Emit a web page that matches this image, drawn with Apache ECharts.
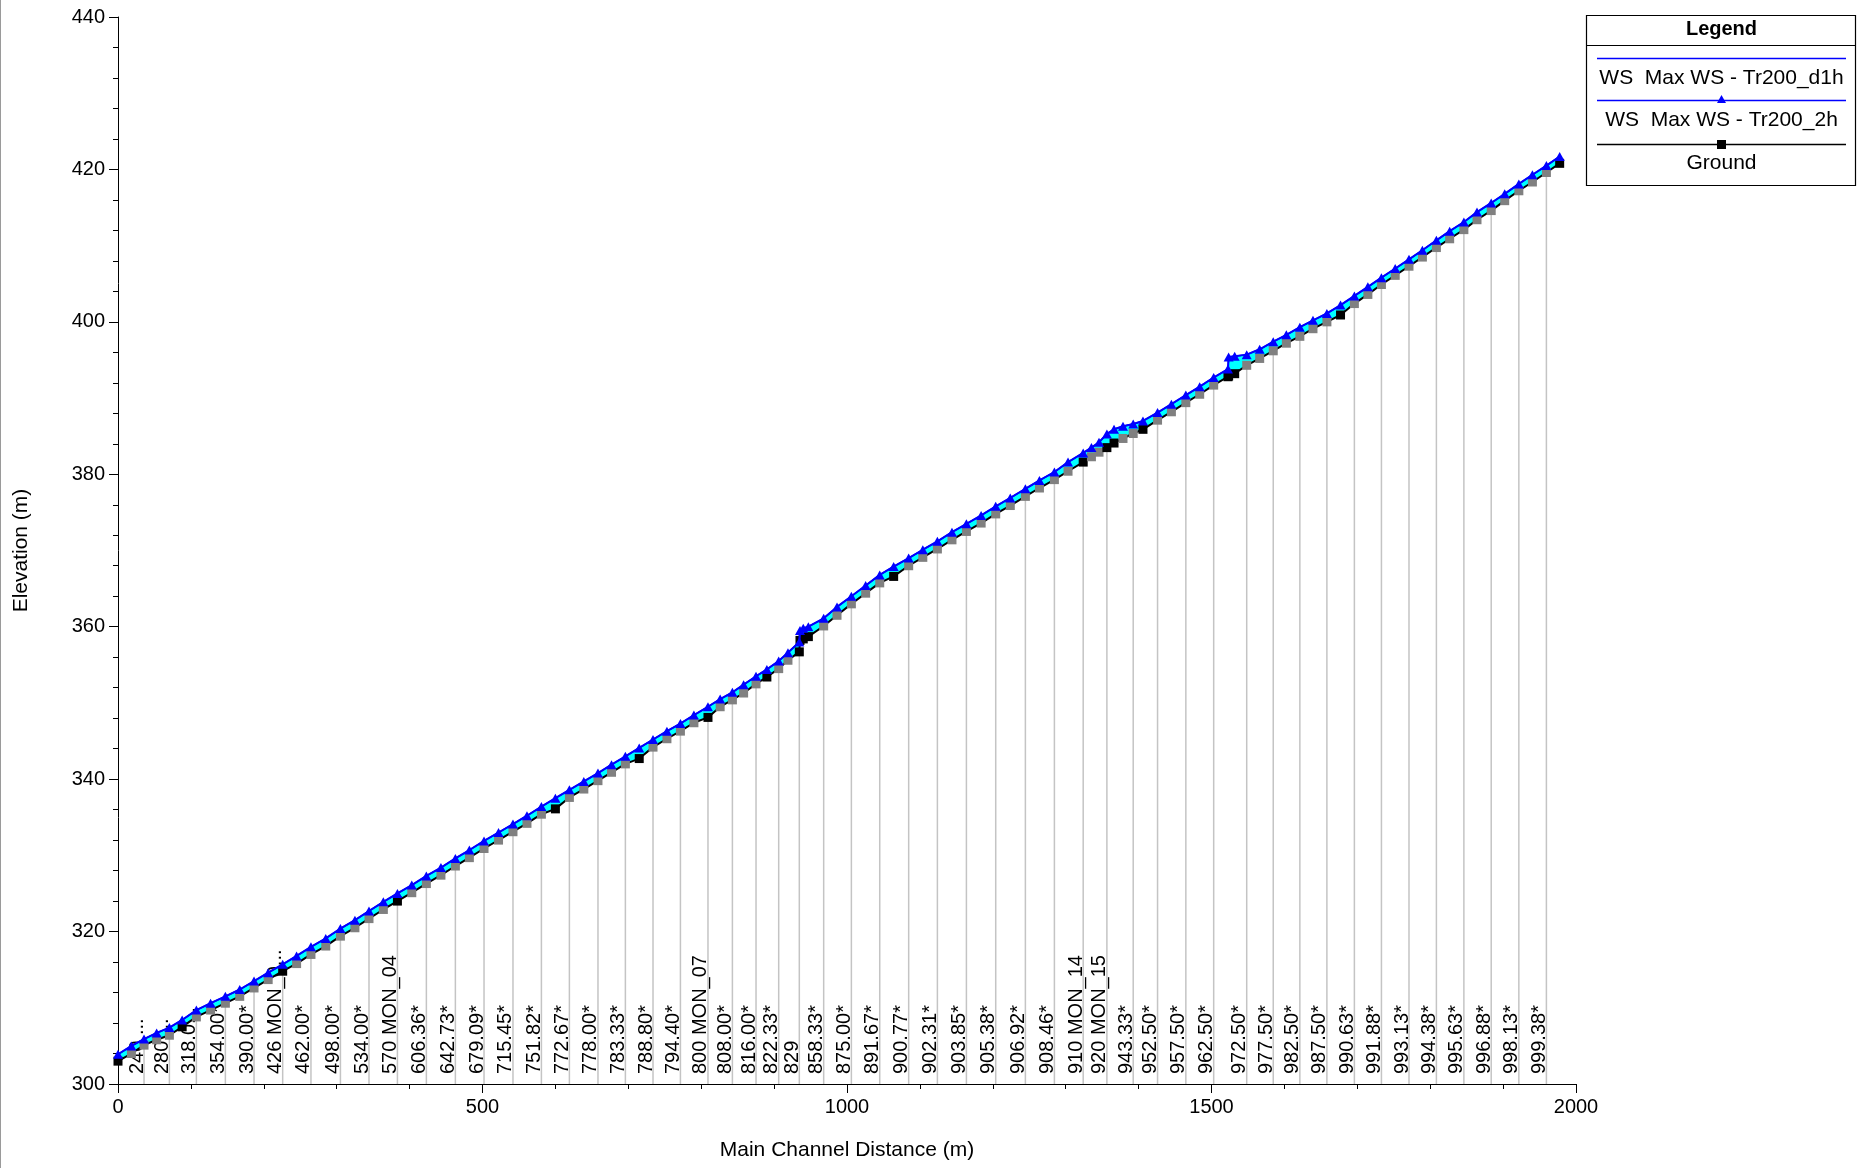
<!DOCTYPE html>
<html>
<head>
<meta charset="utf-8">
<title>Profile - Max WS</title>
<script src="https://cdn.jsdelivr.net/npm/echarts@6/dist/echarts.min.js"></script>
<style>
  html, body { margin: 0; padding: 0; background: #fff; }
  #chart { width: 1865px; height: 1168px; }
</style>
</head>
<body>
<div id="chart"></div>
<script>
// main channel distance (m) of every cross section
var xsDist = [0, 18.4, 35.7, 53, 70.5, 88, 107.5, 127, 147.3, 167,
  186.6, 206, 225.9, 245, 264.7, 285, 305.1, 325, 344.3, 364,
  383.3, 403, 423, 443, 462.8, 482, 502.1, 522, 541.8, 561,
  580.8, 600, 619.2, 639, 658.4, 677, 696, 715, 733.9, 753,
  771.5, 790, 809.3, 826, 842.8, 858.2, 875.2, 890.1, 906.3, 919,
  934.6, 935.5, 940, 947, 968, 986.3, 1006, 1025.6, 1044.9, 1064,
  1084.6, 1104, 1124, 1144, 1163.8, 1184, 1204, 1224, 1244.7, 1264,
  1284.5, 1303.2, 1324, 1335.3, 1345.7, 1356.5, 1366.3, 1378.6, 1392.6, 1406,
  1426, 1445, 1464.8, 1483.8, 1503, 1522.6, 1523.5, 1531.8, 1548.3, 1566.1,
  1584.7, 1602.7, 1621.2, 1639.2, 1658.3, 1677, 1696, 1714.5, 1733.1, 1752,
  1770.9, 1789.3, 1808.5, 1826.7, 1846.2, 1864.2, 1883.7, 1902.2, 1921.6, 1940.2,
  1959.4, 1977.6];

// ground (channel invert) elevation
var groundElev = [303.0, 304.0, 305.1, 305.8, 306.4, 307.5, 308.8, 309.7, 310.6, 311.5,
  312.6, 313.7, 314.8, 315.8, 317.0, 318.1, 319.4, 320.5, 321.7, 322.9,
  324.0, 325.1, 326.3, 327.4, 328.6, 329.7, 330.9, 332.0, 333.1, 334.2,
  335.4, 336.1, 337.6, 338.7, 339.8, 340.9, 342.0, 342.7, 344.2, 345.3,
  346.3, 347.4, 348.1, 349.5, 350.4, 351.3, 352.5, 353.4, 354.5, 355.6,
  356.7, 358.2, 358.4, 358.7, 360.1, 361.5, 363.0, 364.4, 365.75, 366.6,
  368.0, 369.1, 370.2, 371.4, 372.5, 373.6, 374.8, 375.9, 377.1, 378.2,
  379.3, 380.4, 381.6, 382.3, 382.9, 383.5, 384.1, 384.7, 385.35, 385.9,
  387.1, 388.2, 389.4, 390.5, 391.7, 392.8, 392.9, 393.2, 394.3, 395.2,
  396.2, 397.2, 398.1, 399.1, 400.0, 400.9, 402.4, 403.6, 404.9, 406.1,
  407.3, 408.5, 409.75, 410.9, 412.1, 413.4, 414.6, 415.9, 417.2, 418.35,
  419.6, 420.8];

// WS  Max WS - Tr200_d1h
var wsD1h = [303.9, 305.0, 305.9, 306.7, 307.4, 308.4, 309.7, 310.6, 311.5, 312.4,
  313.5, 314.6, 315.7, 316.8, 318.0, 319.1, 320.4, 321.5, 322.7, 323.9,
  325.0, 326.1, 327.3, 328.4, 329.6, 330.7, 331.9, 333.0, 334.1, 335.2,
  336.4, 337.5, 338.6, 339.7, 340.8, 341.9, 343.0, 344.1, 345.2, 346.3,
  347.3, 348.4, 349.5, 350.5, 351.4, 352.4, 353.5, 354.4, 355.5, 356.6,
  358.0, 359.5, 359.8, 360.0, 361.1, 362.6, 364.0, 365.4, 366.8, 367.9,
  369.0, 370.1, 371.2, 372.4, 373.5, 374.6, 375.8, 376.9, 378.1, 379.2,
  380.3, 381.6, 382.8, 383.5, 384.2, 385.3, 385.9, 386.3, 386.6, 387.0,
  388.1, 389.2, 390.4, 391.5, 392.7, 393.8, 395.4, 395.5, 395.7, 396.4,
  397.4, 398.3, 399.3, 400.2, 401.1, 402.2, 403.4, 404.6, 405.8, 407.0,
  408.2, 409.4, 410.7, 411.9, 413.1, 414.4, 415.6, 416.8, 418.1, 419.3,
  420.5, 421.7];

// WS  Max WS - Tr200_2h
var ws2h = [303.9, 305.0, 305.9, 306.7, 307.4, 308.4, 309.7, 310.6, 311.5, 312.4,
  313.5, 314.6, 315.7, 316.8, 318.0, 319.1, 320.4, 321.5, 322.7, 323.9,
  325.0, 326.1, 327.3, 328.4, 329.6, 330.7, 331.9, 333.0, 334.1, 335.2,
  336.4, 337.5, 338.6, 339.7, 340.8, 341.9, 343.0, 344.1, 345.2, 346.3,
  347.3, 348.4, 349.5, 350.5, 351.4, 352.4, 353.5, 354.4, 355.5, 356.6,
  358.0, 359.5, 359.8, 360.0, 361.1, 362.6, 364.0, 365.4, 366.8, 367.9,
  369.0, 370.1, 371.2, 372.4, 373.5, 374.6, 375.8, 376.9, 378.1, 379.2,
  380.3, 381.6, 382.8, 383.5, 384.2, 385.3, 385.9, 386.3, 386.6, 387.0,
  388.1, 389.2, 390.4, 391.5, 392.7, 393.8, 395.4, 395.5, 395.7, 396.4,
  397.4, 398.3, 399.3, 400.2, 401.1, 402.2, 403.4, 404.6, 405.8, 407.0,
  408.2, 409.4, 410.7, 411.9, 413.1, 414.4, 415.6, 416.8, 418.1, 419.3,
  420.5, 421.7];

// surveyed (not interpolated) sections -> black squares
var realXsDist = [0, 88, 225.9, 383.3, 600, 715, 809.3, 890.1, 934.6, 935.5, 940, 947,
  1064, 1324, 1356.5, 1366.3, 1406, 1522.6, 1523.5, 1531.8, 1677, 1977.6];

// labelled sections (river station) with their vertical line
var labelDist = [35.7, 70.5, 107.5, 147.3, 186.6, 225.9, 264.7, 305.1, 344.3, 383.3,
  423, 462.8, 502.1, 541.8, 580.8, 619.2, 658.4, 696, 733.9, 771.5,
  809.3, 842.8, 875.2, 906.3, 934.6, 968, 1006, 1044.9, 1084.6, 1124,
  1163.8, 1204, 1244.7, 1284.5, 1324, 1356.5, 1392.6, 1426, 1464.8, 1503,
  1548.3, 1584.7, 1621.2, 1658.3, 1696, 1733.1, 1770.9, 1808.5, 1846.2, 1883.7,
  1921.6, 1959.4];
var labelText = ['240 ...', '280 ...', '318.0...', '354.00*', '390.00*', '426 MON_0...', '462.00*', '498.00*', '534.00*', '570 MON_04',
  '606.36*', '642.73*', '679.09*', '715.45*', '751.82*', '772.67*', '778.00*', '783.33*', '788.80*', '794.40*',
  '800 MON_07', '808.00*', '816.00*', '822.33*', '829', '858.33*', '875.00*', '891.67*', '900.77*', '902.31*',
  '903.85*', '905.38*', '906.92*', '908.46*', '910 MON_14', '920 MON_15', '943.33*', '952.50*', '957.50*', '962.50*',
  '972.50*', '977.50*', '982.50*', '987.50*', '990.63*', '991.88*', '993.13*', '994.38*', '995.63*', '996.88*',
  '998.13*', '999.38*'];

var xTicks = { min: 0, max: 2000, step: 500 };
var yTicks = { min: 300, max: 440, step: 20 };

var FONT = '"Liberation Sans", Arial, sans-serif';

var chart = echarts.init(document.getElementById('chart'));

var groundData = [], d1hData = [], w2hData = [];
for (var i = 0; i < xsDist.length; i++) {
  var real = realXsDist.indexOf(xsDist[i]) >= 0;
  groundData.push({
    value: [xsDist[i], groundElev[i]],
    itemStyle: { color: real ? '#000000' : '#808080' }
  });
  d1hData.push([xsDist[i], wsD1h[i]]);
  w2hData.push([xsDist[i], ws2h[i]]);
}

var lineData = [];
for (var j = 0; j < labelDist.length; j++) {
  var k = xsDist.indexOf(labelDist[j]);
  lineData.push([labelDist[j], groundElev[k]]);
}

var option = {
  animation: false,
  grid: { left: 118, right: 289, top: 17, bottom: 84, outerBoundsMode: 'none' },
  xAxis: {
    type: 'value',
    min: xTicks.min, max: xTicks.max, interval: xTicks.step,
    name: 'Main Channel Distance (m)',
    nameLocation: 'middle', nameGap: 56,
    nameTextStyle: { fontFamily: FONT, fontSize: 21, color: '#000' },
    axisLine: { lineStyle: { color: '#000', width: 1 } },
    axisTick: { length: 9, lineStyle: { color: '#000' } },
    minorTick: { show: true, splitNumber: 5, length: 5, lineStyle: { color: '#000' } },
    axisLabel: {
      fontFamily: FONT, fontSize: 20, color: '#000', margin: 13,
      formatter: function (v) { return String(v); }
    },
    splitLine: { show: false }
  },
  yAxis: {
    type: 'value',
    min: yTicks.min, max: yTicks.max, interval: yTicks.step,
    name: 'Elevation (m)',
    nameLocation: 'middle', nameGap: 86, nameRotate: 90,
    nameTextStyle: { fontFamily: FONT, fontSize: 21, color: '#000' },
    axisLine: { show: true, lineStyle: { color: '#000', width: 1 } },
    axisTick: { show: true, length: 9, lineStyle: { color: '#000' } },
    minorTick: { show: true, splitNumber: 5, length: 5, lineStyle: { color: '#000' } },
    axisLabel: { fontFamily: FONT, fontSize: 20, color: '#000', margin: 13 },
    splitLine: { show: false }
  },
  series: [
    {
      // cross-section lines and station labels
      type: 'custom',
      z: 1,
      silent: true,
      data: lineData,
      renderItem: function (params, api) {
        var top = api.coord([api.value(0), api.value(1)]);
        var bot = api.coord([api.value(0), yTicks.min]);
        return {
          type: 'group',
          children: [{
            type: 'line',
            shape: { x1: top[0], y1: top[1], x2: bot[0], y2: bot[1] },
            style: { stroke: '#c4c4c4', lineWidth: 1.5 }
          }, {
            type: 'text',
            x: bot[0] + 3,
            y: bot[1] - 10,
            rotation: Math.PI / 2,
            style: {
              text: labelText[params.dataIndex],
              font: '20px ' + FONT,
              fill: '#000',
              align: 'left',
              verticalAlign: 'bottom'
            }
          }]
        };
      }
    },
    {
      // water between ground and water surface
      type: 'custom',
      z: 2,
      silent: true,
      data: [[xsDist[0], groundElev[0]]],
      renderItem: function (params, api) {
        var pts = [];
        for (var a = 0; a < xsDist.length; a++) pts.push(api.coord([xsDist[a], ws2h[a]]));
        for (var b = xsDist.length - 1; b >= 0; b--) pts.push(api.coord([xsDist[b], groundElev[b]]));
        return { type: 'polygon', shape: { points: pts }, style: { fill: '#00ffff' } };
      }
    },
    {
      name: 'Ground',
      type: 'line',
      z: 3,
      data: groundData,
      symbol: 'rect',
      symbolSize: 9,
      showSymbol: true,
      showAllSymbol: true,
      itemStyle: { color: '#808080' },
      lineStyle: { color: '#000', width: 2 }
    },
    {
      name: 'WS  Max WS - Tr200_d1h',
      type: 'line',
      z: 4,
      data: d1hData,
      symbol: 'none',
      lineStyle: { color: '#0000ff', width: 1.5 }
    },
    {
      name: 'WS  Max WS - Tr200_2h',
      type: 'line',
      z: 5,
      data: w2hData,
      symbol: 'triangle',
      symbolSize: [10, 9],
      showSymbol: true,
      showAllSymbol: true,
      itemStyle: { color: '#0000ff' },
      lineStyle: { color: '#0000ff', width: 2 }
    }
  ],
  graphic: [
    { type: 'line', shape: { x1: 0.5, y1: 0, x2: 0.5, y2: 1168 }, style: { stroke: '#9a9a9a', lineWidth: 1 } },
    { type: 'rect', shape: { x: 1586.5, y: 15.5, width: 269, height: 170 }, style: { fill: '#fff', stroke: '#000', lineWidth: 1.2 } },
    { type: 'text', x: 1721.5, y: 29, style: { text: 'Legend', font: 'bold 20px ' + FONT, fill: '#000', align: 'center', verticalAlign: 'middle' } },
    { type: 'line', shape: { x1: 1586.5, y1: 45.5, x2: 1855.5, y2: 45.5 }, style: { stroke: '#000', lineWidth: 1 } },
    { type: 'line', shape: { x1: 1597, y1: 58.5, x2: 1846, y2: 58.5 }, style: { stroke: '#0000ff', lineWidth: 1.5 } },
    { type: 'text', x: 1721.5, y: 78, style: { text: 'WS  Max WS - Tr200_d1h', font: '21px ' + FONT, fill: '#000', align: 'center', verticalAlign: 'middle' } },
    { type: 'line', shape: { x1: 1597, y1: 100.5, x2: 1846, y2: 100.5 }, style: { stroke: '#0000ff', lineWidth: 1.5 } },
    { type: 'polygon', shape: { points: [[1721.5, 95], [1717, 103], [1726, 103]] }, style: { fill: '#0000ff' } },
    { type: 'text', x: 1721.5, y: 120, style: { text: 'WS  Max WS - Tr200_2h', font: '21px ' + FONT, fill: '#000', align: 'center', verticalAlign: 'middle' } },
    { type: 'line', shape: { x1: 1597, y1: 144.5, x2: 1846, y2: 144.5 }, style: { stroke: '#000', lineWidth: 1.5 } },
    { type: 'rect', shape: { x: 1717, y: 140, width: 9, height: 9 }, style: { fill: '#000' } },
    { type: 'text', x: 1721.5, y: 163, style: { text: 'Ground', font: '21px ' + FONT, fill: '#000', align: 'center', verticalAlign: 'middle' } }
  ]
};

chart.setOption(option);
</script>
</body>
</html>
